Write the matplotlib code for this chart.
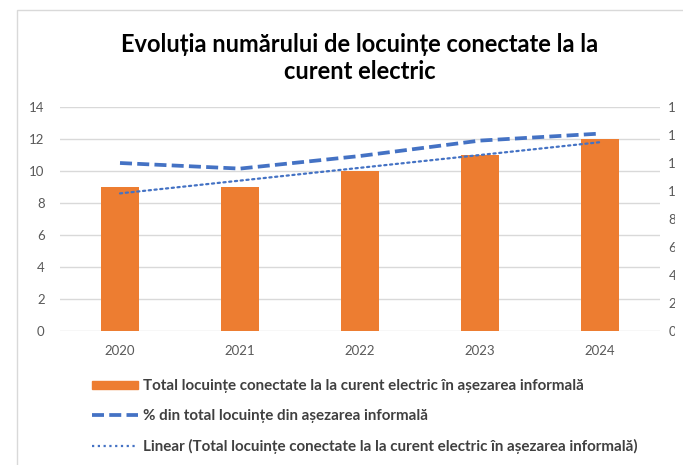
import matplotlib
matplotlib.use("Agg")
import matplotlib.pyplot as plt
import numpy as np
from matplotlib.patches import Rectangle
from matplotlib.lines import Line2D
from matplotlib.transforms import Bbox

plt.rcParams['font.family'] = ['Lato', 'DejaVu Sans']

years = ['2020', '2021', '2022', '2023', '2024']
total_connected = [9, 9, 10, 11, 12]
pct_of_total = [12.0, 11.6, 12.5, 13.6, 14.1]
left_ticks = [0, 2, 4, 6, 8, 10, 12, 14]
right_ticks = [0, 2, 4, 6, 8, 10, 12, 14, 16]

title = "Evoluția numărului de locuințe conectate la la\ncurent electric"
lbl_bar = "Total locuințe conectate la la curent electric în așezarea informală"
lbl_line = "% din total locuințe din așezarea informală"
lbl_trend = "Linear (Total locuințe conectate la la curent electric în așezarea informală)"

W, H = 683, 465
fig = plt.figure(figsize=(W / 100, H / 100), dpi=100)

# outer chart border (partly cut off)
fig.patches.append(Rectangle((17 / W, -0.1), 1.2, (H - 10) / H + 0.1,
                             transform=fig.transFigure, fill=False,
                             edgecolor='#d9d9d9', linewidth=1.0))

ax = fig.add_axes([60 / W, (H - 331) / H, 600 / W, 224 / H])
x = np.arange(len(years))

orange = '#ED7D31'
blue = '#4472C4'
grey = '#595959'

ax.bar(x, total_connected, width=0.31, color=orange, zorder=2)

# linear trendline of the bar series (Excel-style)
coef = np.polyfit(x, total_connected, 1)
trend = np.polyval(coef, x)
ax.plot(x, trend, color=blue, linestyle=(0, (1, 1.6)), linewidth=1.6,
        dash_capstyle='round', zorder=4)

ax.set_xlim(-0.5, len(years) - 0.5)
ax.set_ylim(0, 14)
ax.set_yticks(left_ticks)
ax.set_xticks(x)
ax.set_xticklabels(years)
ax.yaxis.grid(True, color='#d9d9d9', linewidth=1.0, zorder=0)
ax.set_axisbelow(True)
for s in ax.spines.values():
    s.set_visible(False)
ax.tick_params(axis='both', length=0, labelsize=9.5, labelcolor=grey)
ax.tick_params(axis='y', pad=11)
ax.tick_params(axis='x', pad=10)

ax2 = ax.twinx()
ax2.plot(x, pct_of_total, color=blue, linewidth=2.7, linestyle=(0, (3.2, 1.4)),
         zorder=5)
ax2.set_ylim(0, 16)
ax2.set_yticks(right_ticks)
for s in ax2.spines.values():
    s.set_visible(False)
ax2.tick_params(axis='y', length=0, labelsize=9.5, labelcolor=grey, pad=6)
clip = Bbox.from_extents(0, 0, 675, H)
for t in ax2.yaxis.get_major_ticks():
    t.label2.set_clip_box(clip)
    t.label2.set_clip_on(True)

fig.text(360 / W, 1 - 58 / H, title, ha='center', va='center',
         fontsize=17, fontweight='bold', color='#000000', linespacing=1.25)

handles = [Rectangle((0, 0), 1, 1, color=orange),
           Line2D([], [], color=blue, linewidth=2.7, linestyle=(0, (3.2, 1.4))),
           Line2D([], [], color=blue, linewidth=1.6, linestyle=(0, (1, 1.6)))]
fig.legend(handles, [lbl_bar, lbl_line, lbl_trend], loc='upper left',
           bbox_to_anchor=(92 / W, 1 - 379 / H), frameon=False,
           borderaxespad=0, borderpad=0,
           handlelength=3.05, handleheight=0.45, handletextpad=0.3,
           labelspacing=1.05, labelcolor='#404040',
           prop={'weight': 'bold', 'size': 10.9})

fig.savefig('out.png', dpi=100)
